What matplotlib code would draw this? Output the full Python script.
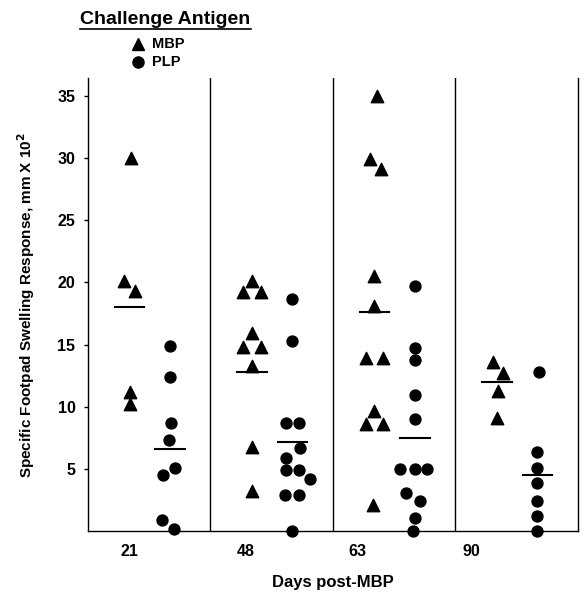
import matplotlib
matplotlib.use('Agg')
import matplotlib.pyplot as plt
from matplotlib.lines import Line2D

plt.rcParams['font.family'] = ['Liberation Sans', 'DejaVu Sans']
plt.rcParams['font.weight'] = 'bold'

# Days post-MBP immunisation
days = ['21', '48', '63', '90']

# Footpad swelling, mm x 10^2 -- MBP challenge
mbp_day21 = [30.0, 20.1, 19.3, 11.2, 10.2]
mbp_day48 = [20.1, 19.2, 19.2, 15.9, 14.8, 14.8, 13.3, 6.8, 3.2]
mbp_day63 = [35.0, 29.9, 29.1, 20.5, 18.1, 13.9, 13.9, 9.7, 8.6, 8.6, 2.1]
mbp_day90 = [13.6, 12.7, 11.3, 9.1]

# PLP challenge
plp_day21 = [14.9, 12.4, 8.7, 7.3, 5.1, 4.5, 0.9, 0.15]
plp_day48 = [18.7, 15.3, 8.7, 8.7, 6.7, 5.9, 4.9, 4.9, 4.2, 2.9, 2.9, 0.0]
plp_day63 = [19.7, 14.75, 13.8, 10.95, 9.0, 4.97, 4.97, 4.97, 3.05, 2.4, 1.1, 0.0]
plp_day90 = [12.8, 6.4, 5.1, 3.85, 2.4, 1.2, 0.0]

# group means (horizontal bars) as drawn in the figure
mbp_means = [18.0, 12.8, 17.6, 12.0]
plp_means = [6.6, 7.15, 7.5, 4.5]

# horizontal spread of overlapping points (in marker steps)
mbp_jitter = [
    [0.2, -0.7, 0.6, 0, 0],
    [0, -1, 1, 0, -1, 1, 0, 0, 0],
    [0.3, -0.5, 0.8, 0, 0, -1, 1, 0, -1, 1, -0.2],
    [-0.45, 0.7, 0.15, 0],
]
plp_jitter = [
    [0, 0, 0.1, -0.1, 0.6, -0.8, -0.9, 0.5],
    [0, 0, -0.8, 0.8, 0.9, -0.8, -0.8, 0.8, 2, -0.9, 0.8, 0],
    [0, 0, 0, 0, 0, -1.7, 0, 1.4, -1, 0.6, 0, -0.2],
    [0.2, 0, 0, 0, 0, 0, 0],
]

mbp_all = [mbp_day21, mbp_day48, mbp_day63, mbp_day90]
plp_all = [plp_day21, plp_day48, plp_day63, plp_day90]

fig = plt.figure(figsize=(5.86, 5.97), dpi=100)
ax = fig.add_axes([0.150, 0.110, 0.836, 0.759])

step = 0.07
half = 0.12
for i in range(len(days)):
    xm = i + 0.34
    xp = i + 0.67
    ax.scatter([xm + j * step for j in mbp_jitter[i]], mbp_all[i],
               marker='^', s=80, color='black', clip_on=False, zorder=3)
    ax.scatter([xp + j * step for j in plp_jitter[i]], plp_all[i],
               marker='o', s=62, color='black', clip_on=False, zorder=3)
    ax.plot([xm - half, xm + half], [mbp_means[i]] * 2, color='black', lw=1.5)
    ax.plot([xp - half, xp + half], [plp_means[i]] * 2, color='black', lw=1.5)
    if i > 0:
        ax.axvline(i, color='black', lw=1)

ax.set_xlim(0, 4)
ax.set_ylim(0, 36.4)
ax.spines['top'].set_visible(False)
for s in ['left', 'bottom', 'right']:
    ax.spines[s].set_linewidth(1)

ax.set_yticks([5, 10, 15, 20, 25, 30, 35])
ax.tick_params(axis='y', direction='out', length=3, width=1, labelsize=11.5, pad=6)
ax.set_xticks([0.34, 1.29, 2.20, 3.13])
ax.set_xticklabels(days)
ax.tick_params(axis='x', length=0, labelsize=11.5, pad=9)

ax.set_xlabel('Days post-MBP', fontsize=12, fontweight='bold', labelpad=12)
ax.set_ylabel('Specific Footpad Swelling Response, mm X 10$^{\\mathbf{2}}$',
              fontsize=11, fontweight='bold', labelpad=15)

# legend block
t = fig.text(0.137, 0.967, 'Challenge Antigen', fontsize=14, fontweight='bold',
             va='center', ha='left')
fig.canvas.draw()
bb = t.get_window_extent().transformed(fig.transFigure.inverted())
fig.add_artist(Line2D([bb.x0, bb.x1], [bb.y0 - 0.002] * 2, color='black', lw=1.2))
fig.add_artist(Line2D([0.2355], [0.926], marker='^', ms=9, color='black', ls='none'))
fig.add_artist(Line2D([0.2355], [0.896], marker='o', ms=8, color='black', ls='none'))
fig.text(0.259, 0.926, 'MBP', fontsize=10.5, fontweight='bold', va='center')
fig.text(0.259, 0.896, 'PLP', fontsize=10.5, fontweight='bold', va='center')

plt.savefig('out.png', dpi=100)
